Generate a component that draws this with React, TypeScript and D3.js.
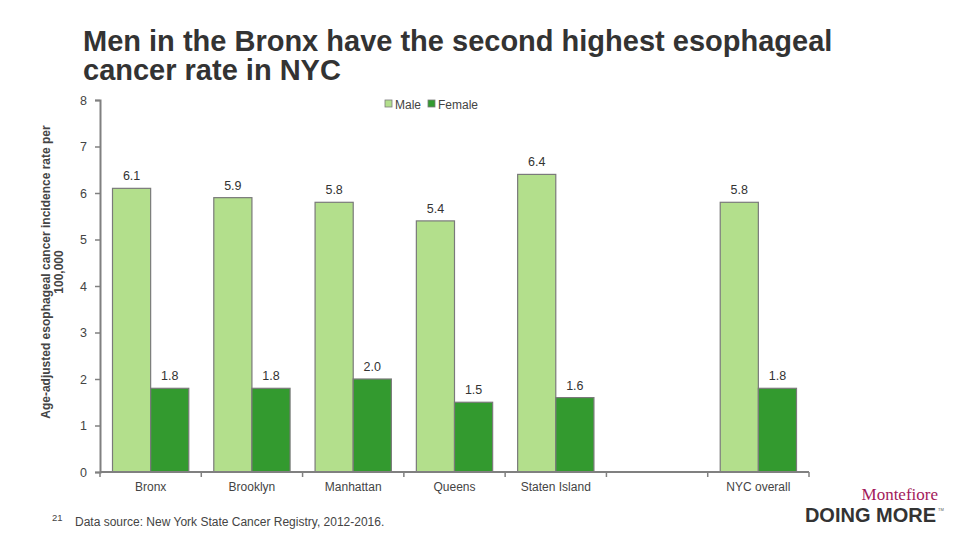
import { useEffect, useRef } from "react";
import * as d3 from "d3";

const categories = ["Bronx", "Brooklyn", "Manhattan", "Queens", "Staten Island", "", "NYC overall"];
const maleRates = [6.1, 5.9, 5.8, 5.4, 6.4, null, 5.8];
const femaleRates = [1.8, 1.8, 2.0, 1.5, 1.6, null, 1.8];
const seriesNames = ["Male", "Female"];
const seriesColors = ["#b3df8c", "#339a2f"];
const yTicks = [0, 1, 2, 3, 4, 5, 6, 7, 8];

const W = 960;
const H = 540;

const App = () => {
  const svgRef = useRef<SVGSVGElement | null>(null);

  useEffect(() => {
    const svg = d3.select(svgRef.current);
    svg.selectAll("*").remove();

    const left = 100;
    const right = 809;
    const top = 100;
    const bottom = 472;

    const x = d3
      .scaleBand<number>()
      .domain(categories.map((_, i) => i))
      .range([left, right]);

    const inner = d3
      .scaleBand<string>()
      .domain(seriesNames)
      .range([12.5, x.bandwidth() - 12.5]);

    const y = d3.scaleLinear().domain([0, 8]).range([bottom, top]);

    // title
    const title = svg
      .append("text")
      .attr("x", 83)
      .attr("font-family", "Liberation Sans, Arial, sans-serif")
      .attr("font-weight", "bold")
      .attr("font-size", 29)
      .attr("fill", "#333");
    title.append("tspan").attr("x", 83).attr("y", 51).text("Men in the Bronx have the second highest esophageal");
    title.append("tspan").attr("x", 83).attr("y", 80).text("cancer rate in NYC");

    // bars
    const rows = [maleRates, femaleRates];
    rows.forEach((vals, s) => {
      const g = svg.append("g");
      const data = vals
        .map((v, i) => ({ i, v }))
        .filter((d) => d.v !== null) as { i: number; v: number }[];

      g.selectAll("rect")
        .data(data)
        .join("rect")
        .attr("x", (d) => (x(d.i) as number) + (inner(seriesNames[s]) as number))
        .attr("y", (d) => y(d.v))
        .attr("width", inner.bandwidth())
        .attr("height", (d) => y(0) - y(d.v))
        .attr("fill", seriesColors[s])
        .attr("stroke", "#7a7a7a")
        .attr("stroke-width", 1.2);

      g.selectAll("text")
        .data(data)
        .join("text")
        .attr("x", (d) => (x(d.i) as number) + (inner(seriesNames[s]) as number) + inner.bandwidth() / 2)
        .attr("y", (d) => y(d.v) - 8)
        .attr("text-anchor", "middle")
        .attr("font-family", "Liberation Sans, Arial, sans-serif")
        .attr("font-size", 12.5)
        .attr("fill", "#333")
        .text((d) => d.v.toFixed(1));
    });

    // y axis
    const yAxis = svg
      .append("g")
      .attr("transform", `translate(${left},0)`)
      .call(d3.axisLeft(y).tickValues(yTicks).tickSize(5).tickPadding(8).tickFormat(d3.format("d")));
    yAxis.select(".domain").attr("stroke", "#808080").attr("stroke-width", 2);
    yAxis.selectAll(".tick line").attr("stroke", "#808080").attr("stroke-width", 1.5);
    yAxis
      .selectAll(".tick text")
      .attr("font-family", "Liberation Sans, Arial, sans-serif")
      .attr("font-size", 12.5)
      .attr("fill", "#444");

    // x axis
    const xAxis = svg.append("g").attr("transform", `translate(0,${bottom})`);
    xAxis
      .append("line")
      .attr("x1", left)
      .attr("x2", right)
      .attr("stroke", "#808080")
      .attr("stroke-width", 2);
    const bounds = categories.map((_, i) => x(i) as number).concat([right]);
    xAxis
      .selectAll("line.tick")
      .data(bounds)
      .join("line")
      .attr("class", "tick")
      .attr("x1", (d) => d)
      .attr("x2", (d) => d)
      .attr("y1", 0)
      .attr("y2", 5)
      .attr("stroke", "#808080")
      .attr("stroke-width", 1.5);
    xAxis
      .selectAll("text")
      .data(categories)
      .join("text")
      .attr("x", (_, i) => (x(i) as number) + x.bandwidth() / 2)
      .attr("y", 19)
      .attr("text-anchor", "middle")
      .attr("font-family", "Liberation Sans, Arial, sans-serif")
      .attr("font-size", 12)
      .attr("fill", "#444")
      .text((d) => d);

    // y axis title
    const yt = svg
      .append("text")
      .attr("transform", "translate(50,272) rotate(-90)")
      .attr("text-anchor", "middle")
      .attr("font-family", "Liberation Sans, Arial, sans-serif")
      .attr("font-weight", "bold")
      .attr("font-size", 12)
      .attr("fill", "#444");
    yt.append("tspan").attr("x", 0).attr("y", 0).text("Age-adjusted esophageal cancer incidence rate per");
    yt.append("tspan").attr("x", 0).attr("y", 13).text("100,000");

    // legend
    const lg = svg.append("g").attr("transform", "translate(385,100)");
    const lx = [0, 43];
    seriesNames.forEach((n, i) => {
      lg.append("rect")
        .attr("x", lx[i])
        .attr("y", 0)
        .attr("width", 7)
        .attr("height", 7)
        .attr("fill", seriesColors[i])
        .attr("stroke", "#7a7a7a")
        .attr("stroke-width", 0.8);
      lg.append("text")
        .attr("x", lx[i] + 10)
        .attr("y", 8.5)
        .attr("font-family", "Liberation Sans, Arial, sans-serif")
        .attr("font-size", 12)
        .attr("fill", "#444")
        .text(n);
    });

    // footer
    svg.append("text")
      .attr("x", 52)
      .attr("y", 521)
      .attr("font-family", "Liberation Sans, Arial, sans-serif")
      .attr("font-size", 9.5)
      .attr("fill", "#444")
      .text("21");
    svg.append("text")
      .attr("x", 75)
      .attr("y", 526)
      .attr("font-family", "Liberation Sans, Arial, sans-serif")
      .attr("font-size", 12)
      .attr("fill", "#444")
      .text("Data source: New York State Cancer Registry, 2012-2016.");

    // logo
    svg.append("text")
      .attr("x", 938)
      .attr("y", 500)
      .attr("text-anchor", "end")
      .attr("font-family", "Liberation Serif, serif")
      .attr("font-size", 17)
      .attr("fill", "#a3195b")
      .text("Montefiore");
    svg.append("text")
      .attr("x", 936)
      .attr("y", 522)
      .attr("text-anchor", "end")
      .attr("font-family", "Liberation Sans, Arial, sans-serif")
      .attr("font-weight", "bold")
      .attr("font-size", 20)
      .attr("fill", "#333")
      .text("DOING MORE");
    svg.append("text")
      .attr("x", 938)
      .attr("y", 511)
      .attr("font-family", "Liberation Sans, Arial, sans-serif")
      .attr("font-size", 4)
      .attr("fill", "#555")
      .text("TM");
  }, []);

  return (
    <svg
      ref={svgRef}
      width={W}
      height={H}
      style={{ position: "absolute", top: 0, left: 0, background: "#fff" }}
    />
  );
};

export default App;
